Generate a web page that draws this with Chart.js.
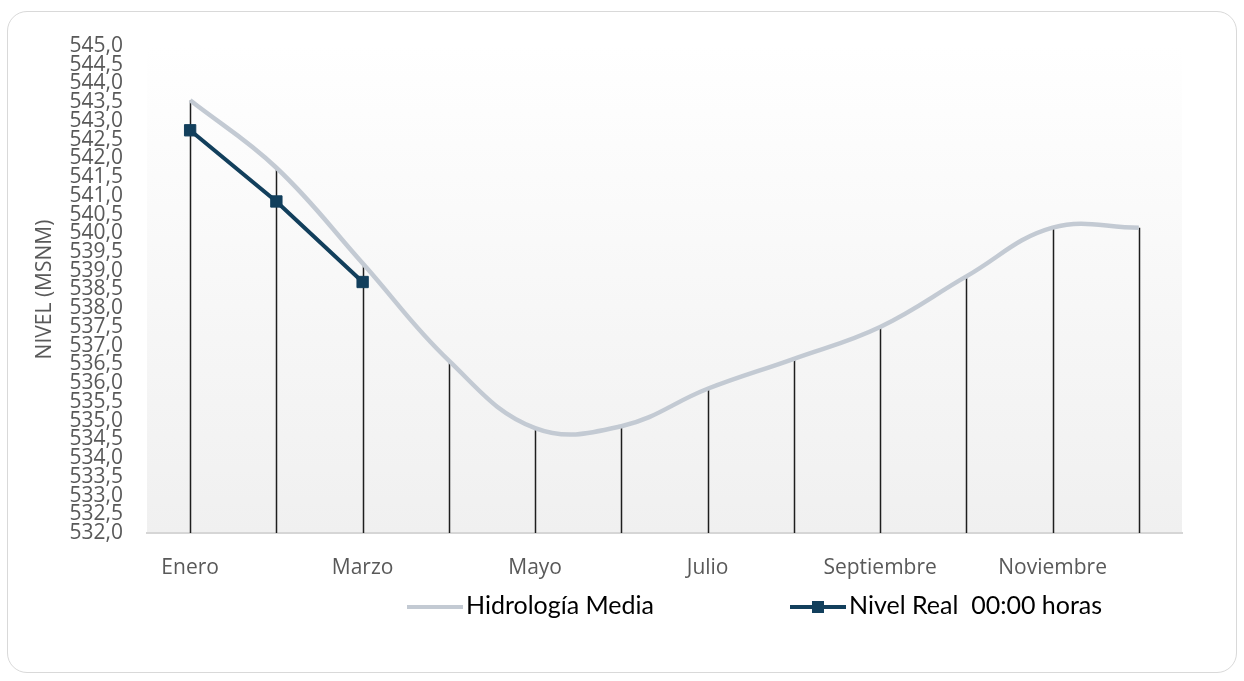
<!DOCTYPE html>
<html>
<head>
<meta charset="utf-8">
<script src="https://cdn.jsdelivr.net/npm/chart.js@4/dist/chart.umd.min.js"></script>
<style>
    body { margin: 0; background: #fff; }
    .marco {
        position: absolute; left: 7px; top: 11px; width: 1228px; height: 660px;
        border: 1.5px solid #d9d9d9; border-radius: 20px;
    }
    #grafico { position: absolute; left: 0; top: 0; }
</style>
</head>
<body>
<div class="marco"></div>
<canvas id="grafico" width="1244" height="681"></canvas>
<script>
// ---------- datos ----------
const meses = ['Enero', 'Febrero', 'Marzo', 'Abril', 'Mayo', 'Junio', 'Julio', 'Agosto', 'Septiembre', 'Octubre', 'Noviembre', 'Diciembre'];
const hidrologiaMedia = [543.55, 541.75, 539.2, 536.6, 534.8, 534.85, 535.85, 536.65, 537.5, 538.85, 540.15, 540.15];
const nivelReal = [542.75, 540.85, 538.7];
const yMin = 532;
const yMax = 545;
const yPaso = 0.5;

const colorMedia = '#c3cad3';
const colorReal = '#123f5c';

// fondo degradado del area de trazado
const fondoPlugin = {
    id: 'fondo',
    beforeDraw(chart) {
        const { ctx, chartArea: a } = chart;
        const g = ctx.createLinearGradient(0, a.top, 0, a.bottom);
        g.addColorStop(0, '#ffffff');
        g.addColorStop(1, '#f0f0f0');
        ctx.save();
        ctx.fillStyle = g;
        ctx.fillRect(a.left, a.top, a.right - a.left, a.bottom - a.top);
        ctx.restore();
    }
};

// lineas de caida desde la hidrologia media hasta el eje
const caidaPlugin = {
    id: 'caida',
    beforeDatasetsDraw(chart) {
        const { ctx, chartArea: a } = chart;
        const meta = chart.getDatasetMeta(0);
        ctx.save();
        ctx.strokeStyle = '#1e1e1e';
        ctx.lineWidth = 1.5;
        meta.data.forEach((p) => {
            ctx.beginPath();
            ctx.moveTo(Math.round(p.x) + 0.5, p.y);
            ctx.lineTo(Math.round(p.x) + 0.5, a.bottom);
            ctx.stroke();
        });
        ctx.restore();
    }
};

// leyenda al estilo de la hoja de calculo
const leyendaPlugin = {
    id: 'leyenda',
    afterDraw(chart) {
        const { ctx, chartArea: a } = chart;
        const ds = chart.data.datasets;
        const y = a.bottom + 74;
        let x = a.left + 260;
        ctx.save();
        ctx.font = '25px Lato';
        ctx.fillStyle = '#000';
        ctx.textBaseline = 'alphabetic';
        ds.forEach((d) => {
            ctx.strokeStyle = d.borderColor;
            ctx.lineWidth = 4;
            ctx.beginPath();
            ctx.moveTo(x, y);
            ctx.lineTo(x + 56, y);
            ctx.stroke();
            if (d.pointRadius > 0) {
                ctx.fillStyle = d.borderColor;
                ctx.fillRect(x + 22, y - 6, 12, 12);
                ctx.fillStyle = '#000';
            }
            ctx.fillText(d.label, x + 59, y + 7);
            x += 383;
        });
        ctx.restore();
    }
};

function dibujar() {
    new Chart(document.getElementById('grafico'), {
        type: 'line',
        data: {
            labels: meses,
            datasets: [{
                label: 'Hidrología Media',
                data: hidrologiaMedia,
                borderColor: colorMedia,
                backgroundColor: colorMedia,
                borderWidth: 4.5,
                pointRadius: 0,
                tension: 0.4,
                fill: false
            }, {
                label: 'Nivel Real  00:00 horas',
                data: nivelReal,
                borderColor: colorReal,
                backgroundColor: colorReal,
                borderWidth: 4,
                pointStyle: 'rect',
                pointRadius: 8,
                pointBorderWidth: 1,
                pointBorderColor: colorReal,
                pointBackgroundColor: colorReal,
                tension: 0,
                fill: false
            }]
        },
        options: {
            responsive: false,
            animation: false,
            layout: {
                padding: { left: 20, right: 62, top: 46, bottom: 100 }
            },
            plugins: {
                legend: { display: false },
                tooltip: { enabled: false }
            },
            scales: {
                x: {
                    offset: true,
                    grid: { display: false, drawTicks: false },
                    border: { display: true, color: '#d6d6d6', width: 2 },
                    ticks: {
                        autoSkip: false,
                        maxRotation: 0,
                        padding: 22,
                        color: '#595959',
                        font: { family: 'Open Sans', size: 21 },
                        callback: (v, i) => (i % 2 === 0 ? meses[i] : '')
                    },
                    afterFit: (s) => { s.height = 48; }
                },
                y: {
                    min: yMin,
                    max: yMax,
                    grid: { display: false, drawTicks: false },
                    border: { display: false },
                    ticks: {
                        stepSize: yPaso,
                        autoSkip: false,
                        padding: 24,
                        color: '#595959',
                        font: { family: 'Open Sans', size: 21 },
                        callback: (v) => v.toFixed(1).replace('.', ',')
                    },
                    title: {
                        display: true,
                        text: 'NIVEL (MSNM)',
                        color: '#595959',
                        font: { family: 'Open Sans', size: 21 },
                        padding: { top: 12, bottom: 0 }
                    },
                    afterFit: (s) => { s.width = 127; }
                }
            }
        },
        plugins: [fondoPlugin, caidaPlugin, leyendaPlugin]
    });
}

Promise.all([
    document.fonts.load('21px "Open Sans"'),
    document.fonts.load('25px Lato')
]).then(dibujar, dibujar);
</script>
</body>
</html>
